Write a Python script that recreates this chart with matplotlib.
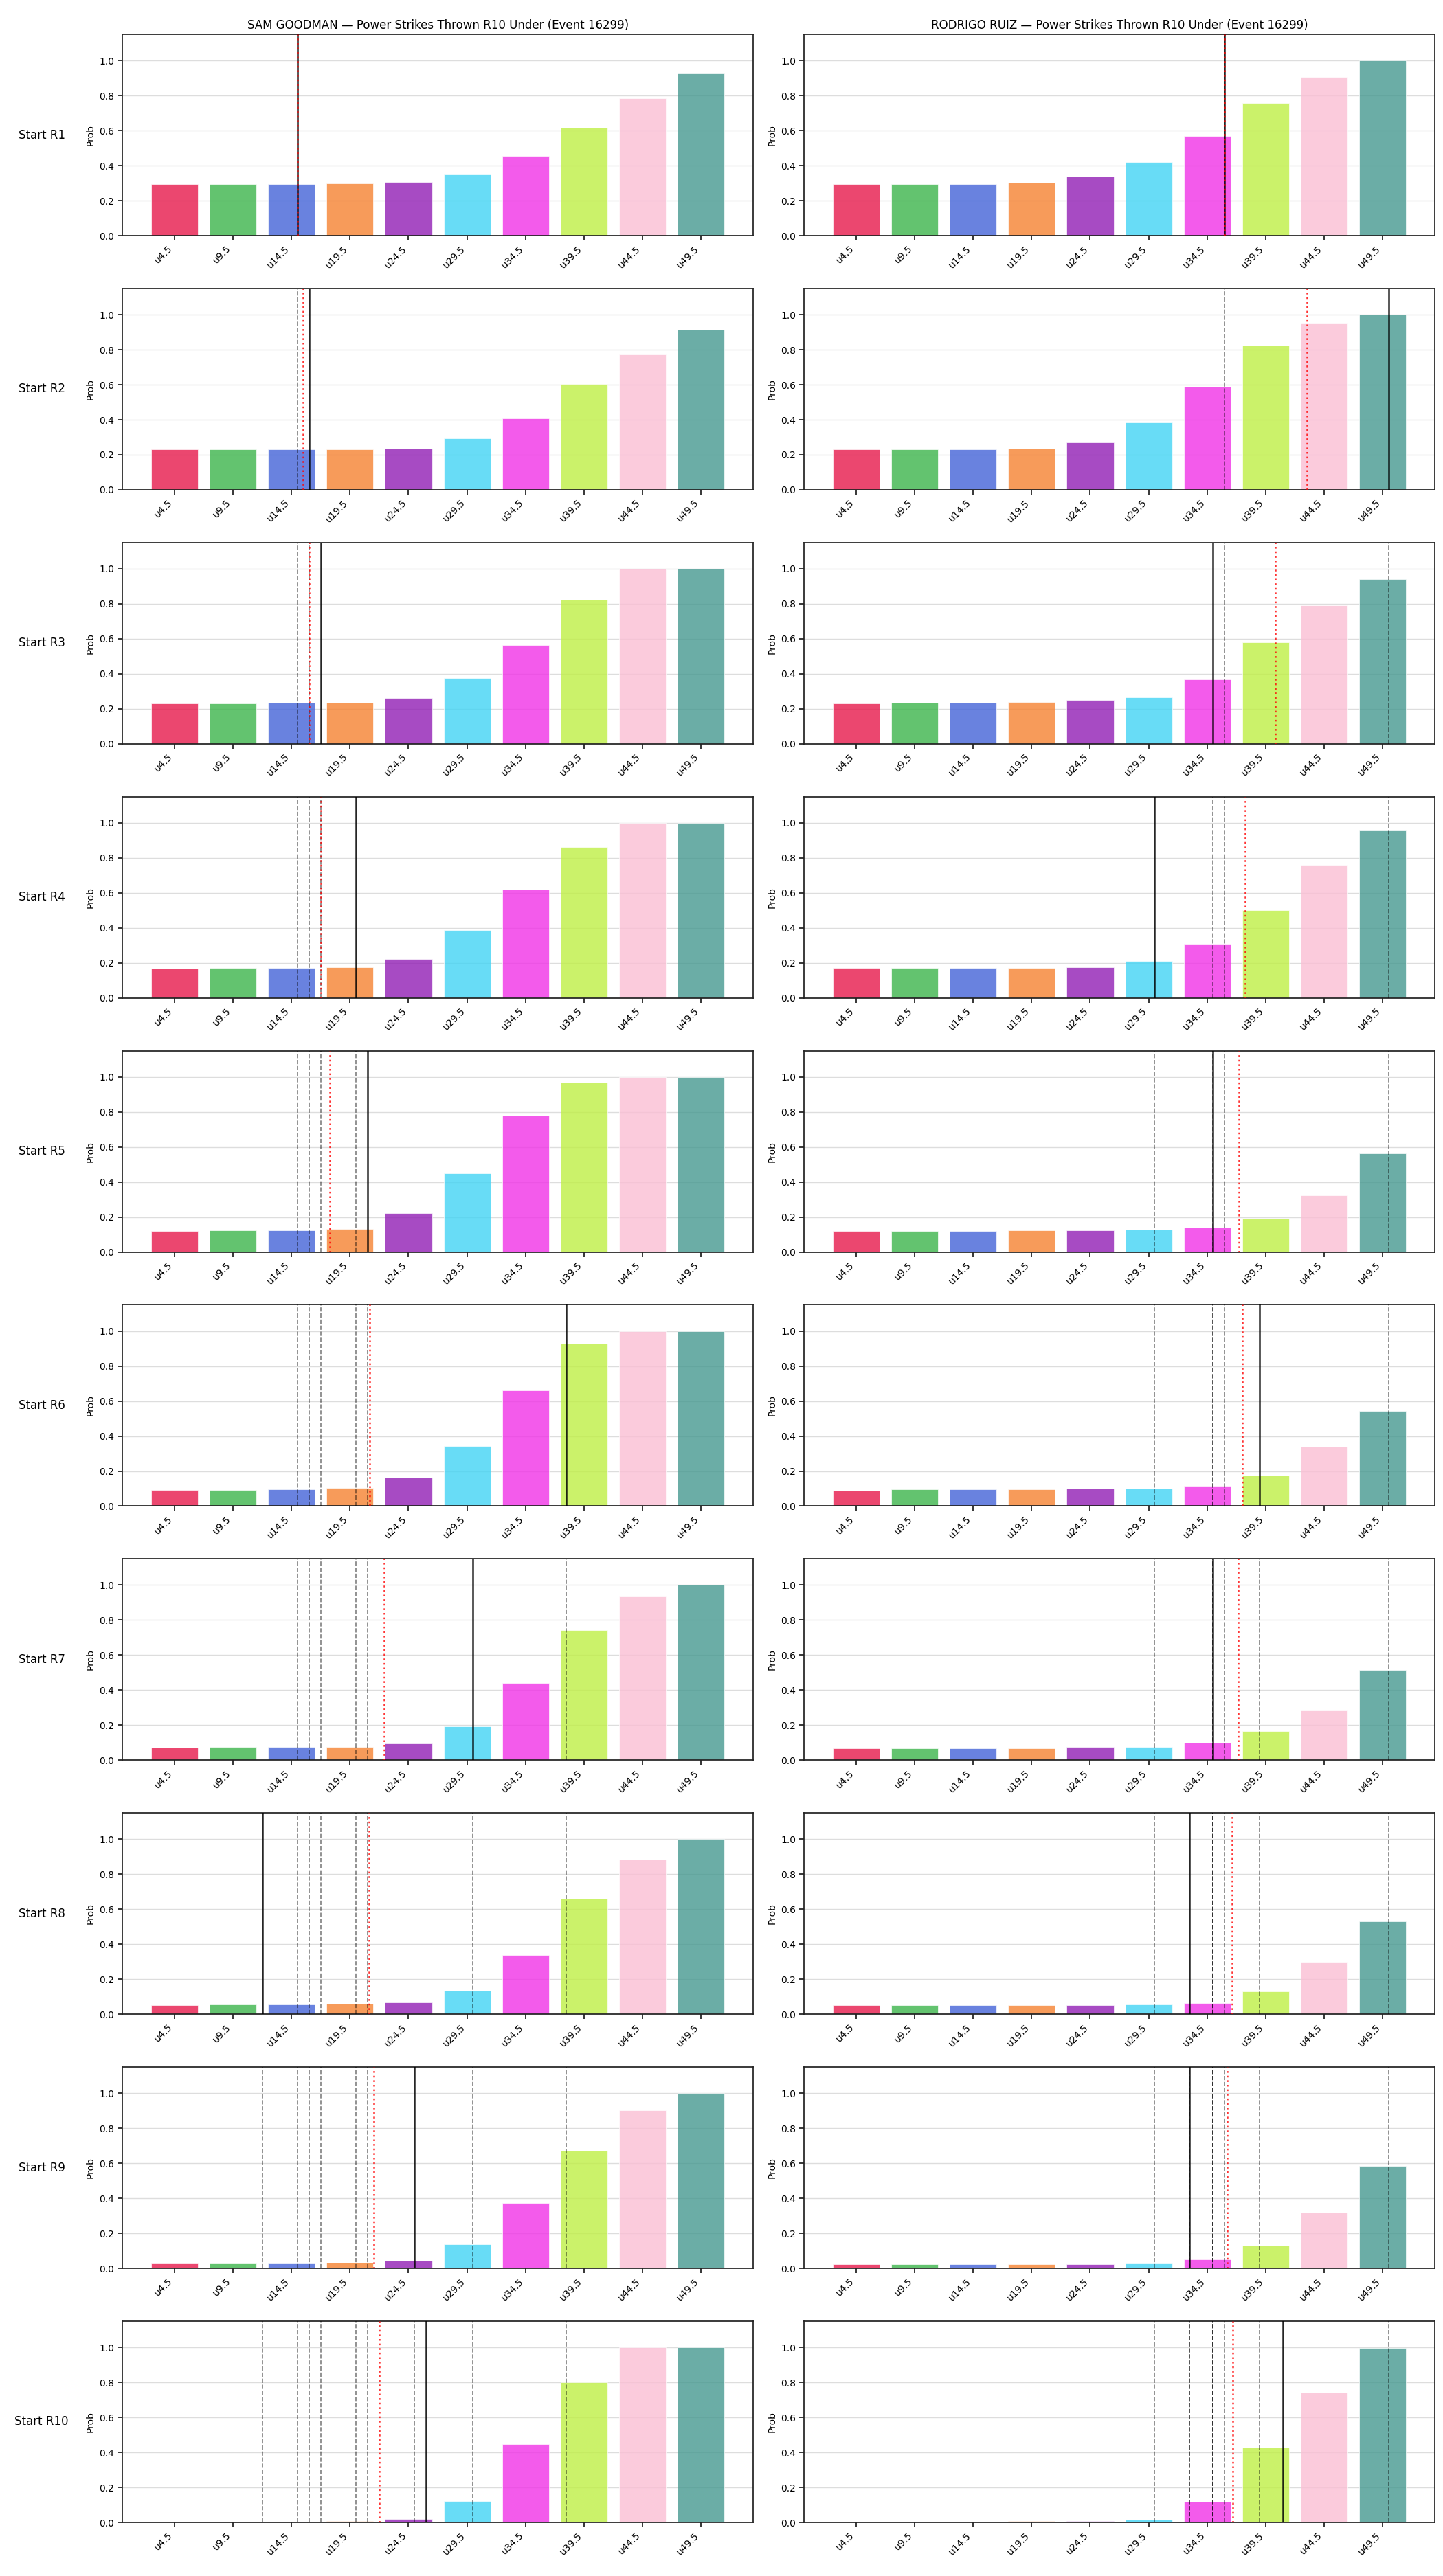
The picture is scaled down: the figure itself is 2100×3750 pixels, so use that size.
import numpy as np
import matplotlib.pyplot as plt

thresholds = [4.5, 9.5, 14.5, 19.5, 24.5, 29.5, 34.5, 39.5, 44.5, 49.5]
tick_labels = ["u4.5", "u9.5", "u14.5", "u19.5", "u24.5",
               "u29.5", "u34.5", "u39.5", "u44.5", "u49.5"]
bar_colors = ["#e6194B", "#3cb44b", "#4363d8", "#f58231", "#911eb4",
              "#42d4f4", "#f032e6", "#bfef45", "#fabed4", "#469990"]

fighters = ["SAM GOODMAN", "RODRIGO RUIZ"]
event_id = 16299

# power strikes thrown per round (R1..R10)
sam_rounds = [15, 16, 17, 20, 21, 38, 30, 12, 25, 26]
ruiz_rounds = [36, 50, 35, 30, 35, 39, 35, 33, 33, 41]

# P(R10 power strikes thrown under line), one list per starting round
sam_probs = [
    [0.294, 0.294, 0.294, 0.297, 0.305, 0.349, 0.455, 0.617, 0.786, 0.931],
    [0.230, 0.230, 0.230, 0.230, 0.234, 0.294, 0.407, 0.604, 0.773, 0.916],
    [0.230, 0.230, 0.234, 0.234, 0.264, 0.375, 0.565, 0.825, 1.000, 1.000],
    [0.167, 0.171, 0.171, 0.175, 0.223, 0.388, 0.617, 0.864, 1.000, 1.000],
    [0.121, 0.125, 0.125, 0.132, 0.223, 0.448, 0.779, 0.967, 1.000, 1.000],
    [0.093, 0.093, 0.097, 0.104, 0.164, 0.344, 0.660, 0.928, 1.000, 1.000],
    [0.072, 0.076, 0.076, 0.076, 0.097, 0.195, 0.439, 0.742, 0.935, 1.000],
    [0.050, 0.054, 0.054, 0.058, 0.069, 0.136, 0.340, 0.660, 0.885, 1.000],
    [0.026, 0.026, 0.026, 0.030, 0.045, 0.136, 0.372, 0.671, 0.903, 1.000],
    [0.000, 0.000, 0.002, 0.006, 0.019, 0.121, 0.448, 0.799, 1.000, 1.000],
]
ruiz_probs = [
    [0.294, 0.294, 0.294, 0.301, 0.336, 0.420, 0.569, 0.758, 0.907, 1.000],
    [0.230, 0.230, 0.230, 0.234, 0.271, 0.385, 0.589, 0.822, 0.952, 1.000],
    [0.230, 0.235, 0.235, 0.240, 0.250, 0.265, 0.370, 0.580, 0.790, 0.940],
    [0.170, 0.170, 0.170, 0.170, 0.175, 0.210, 0.310, 0.500, 0.760, 0.960],
    [0.121, 0.121, 0.121, 0.125, 0.125, 0.128, 0.140, 0.191, 0.325, 0.565],
    [0.090, 0.095, 0.095, 0.095, 0.100, 0.100, 0.115, 0.175, 0.340, 0.545],
    [0.070, 0.070, 0.070, 0.070, 0.075, 0.075, 0.100, 0.165, 0.285, 0.515],
    [0.050, 0.050, 0.050, 0.050, 0.050, 0.055, 0.065, 0.130, 0.300, 0.530],
    [0.025, 0.025, 0.025, 0.025, 0.025, 0.028, 0.050, 0.130, 0.320, 0.585],
    [0.000, 0.000, 0.004, 0.007, 0.007, 0.017, 0.117, 0.427, 0.742, 0.997],
]

plt.rcParams["axes.edgecolor"] = "#222222"
plt.rcParams["axes.linewidth"] = 1.25
plt.rcParams["xtick.major.size"] = 5
plt.rcParams["ytick.major.size"] = 5
plt.rcParams["xtick.major.width"] = 1.1
plt.rcParams["ytick.major.width"] = 1.1


def to_pos(v):
    # map a strike count onto the bar axis (one bar per 5 strikes)
    return (v - thresholds[0]) / (thresholds[1] - thresholds[0])


fig, axes = plt.subplots(10, 2, figsize=(21, 37.5), dpi=100)
fig.subplots_adjust(left=0.0848, right=0.9943, top=0.98667, bottom=0.0208,
                    wspace=0.0806, hspace=0.262)

x = np.arange(len(thresholds))
for col, (name, rounds, probs) in enumerate(
        [(fighters[0], sam_rounds, sam_probs), (fighters[1], ruiz_rounds, ruiz_probs)]):
    for r in range(10):
        ax = axes[r, col]
        ax.bar(x, probs[r], width=0.8, color=bar_colors, alpha=0.8,
               edgecolor="white", linewidth=0.6, zorder=2)
        # earlier rounds dashed, current round solid, running average dotted
        for v in rounds[:r]:
            ax.axvline(to_pos(v), color="k", ls="--", lw=1.2, alpha=0.5, zorder=3)
        ax.axvline(to_pos(rounds[r]), color="k", lw=1.8, alpha=0.85, zorder=4)
        ax.axvline(to_pos(np.mean(rounds[:r + 1])), color="red", ls=":",
                   lw=1.8, alpha=0.8, zorder=5)
        ax.set_ylim(0, 1.15)
        ax.set_xticks(x)
        ax.set_xticklabels(tick_labels, rotation=45, ha="right", fontsize=10)
        ax.tick_params(axis="y", labelsize=10)
        ax.set_ylabel("Prob", fontsize=10)
        ax.grid(axis="y", color="#dddddd", lw=1, zorder=0)
        ax.set_axisbelow(True)
        if col == 0:
            ax.text(-0.128, 0.5, f"Start R{r + 1}", transform=ax.transAxes,
                    ha="center", va="center", fontsize=12)
        if r == 0:
            ax.set_title(f"{name} \u2014 Power Strikes Thrown R10 Under (Event {event_id})",
                         fontsize=12)

fig.savefig("out.png", dpi=100)
